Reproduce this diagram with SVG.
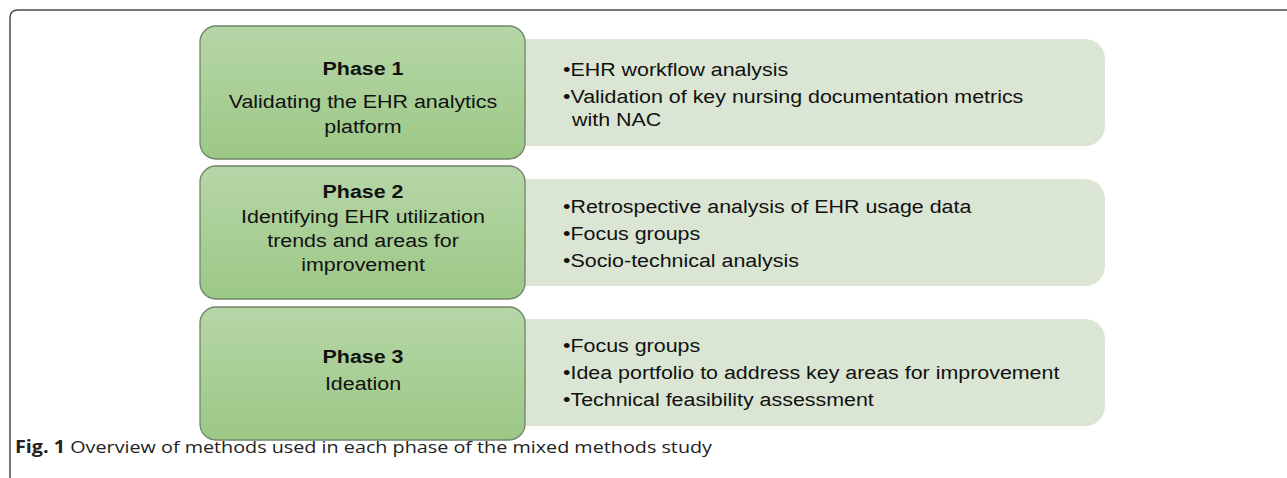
<svg xmlns="http://www.w3.org/2000/svg" width="1287" height="478" viewBox="0 0 1287 478">
  <defs>
    <linearGradient id="phaseFill" x1="0" y1="0" x2="0" y2="1">
      <stop offset="0" stop-color="#b6d6a7"/>
      <stop offset="1" stop-color="#9cc886"/>
    </linearGradient>
    <style>
      .frame { fill: none; stroke: #4a4a4a; stroke-width: 1.5; }
      .detail { fill: #dae6d3; }
      .phase { fill: url(#phaseFill); stroke: #6f8468; stroke-width: 1.3; }
      .ttl { font-family: "Liberation Sans", Arial, sans-serif; font-size: 18px; font-weight: bold; fill: #111; text-anchor: middle; }
      .sub { font-family: "Liberation Sans", Arial, sans-serif; font-size: 18px; fill: #111; text-anchor: middle; }
      .item { font-family: "Liberation Sans", Arial, sans-serif; font-size: 18px; fill: #111; }
      .cap { font-family: "Open Sans", "Liberation Sans", sans-serif; font-size: 17px; fill: #222; }
      .capb { font-weight: bold; }
    </style>
  </defs>

  <rect width="1287" height="478" fill="#ffffff"/>

  <!-- figure frame: top and left rules -->
  <path class="frame" d="M1287,10 H18 Q10,10 10,18 V478"/>

  <!-- phase 1 -->
  <g id="phase1">
    <rect class="detail" x="480" y="39" width="625" height="107" rx="20"/>
    <rect class="phase" x="200" y="26" width="325" height="133" rx="16"/>
    <text class="ttl" transform="translate(363 75) scale(1.19 1)">Phase 1</text>
    <text class="sub" transform="translate(363 108) scale(1.19 1)">Validating the EHR analytics</text>
    <text class="sub" transform="translate(363 133) scale(1.19 1)">platform</text>
    <text class="item" transform="translate(563 76) scale(1.19 1)">•EHR workflow analysis</text>
    <text class="item" transform="translate(563 103) scale(1.19 1)">•Validation of key nursing documentation metrics</text>
    <text class="item" transform="translate(572 126) scale(1.19 1)">with NAC</text>
  </g>

  <!-- phase 2 -->
  <g id="phase2">
    <rect class="detail" x="480" y="179" width="625" height="107" rx="20"/>
    <rect class="phase" x="200" y="166" width="325" height="133" rx="16"/>
    <text class="ttl" transform="translate(363 198) scale(1.19 1)">Phase 2</text>
    <text class="sub" transform="translate(363 223) scale(1.19 1)">Identifying EHR utilization</text>
    <text class="sub" transform="translate(363 247) scale(1.19 1)">trends and areas for</text>
    <text class="sub" transform="translate(363 271) scale(1.19 1)">improvement</text>
    <text class="item" transform="translate(563 213) scale(1.19 1)">•Retrospective analysis of EHR usage data</text>
    <text class="item" transform="translate(563 240) scale(1.19 1)">•Focus groups</text>
    <text class="item" transform="translate(563 267) scale(1.19 1)">•Socio-technical analysis</text>
  </g>

  <!-- phase 3 -->
  <g id="phase3">
    <rect class="detail" x="480" y="319" width="625" height="107" rx="20"/>
    <rect class="phase" x="200" y="307" width="325" height="133" rx="16"/>
    <text class="ttl" transform="translate(363 363) scale(1.19 1)">Phase 3</text>
    <text class="sub" transform="translate(363 390) scale(1.19 1)">Ideation</text>
    <text class="item" transform="translate(563 352) scale(1.19 1)">•Focus groups</text>
    <text class="item" transform="translate(563 379) scale(1.19 1)">•Idea portfolio to address key areas for improvement</text>
    <text class="item" transform="translate(563 406) scale(1.19 1)">•Technical feasibility assessment</text>
  </g>

  <!-- no connectors in this figure -->
  <g id="connectors"/>

  <!-- caption -->
  <text class="cap" x="15" y="453" textLength="697" lengthAdjust="spacingAndGlyphs"><tspan class="capb">Fig. 1</tspan>  Overview of methods used in each phase of the mixed methods study</text>
</svg>
